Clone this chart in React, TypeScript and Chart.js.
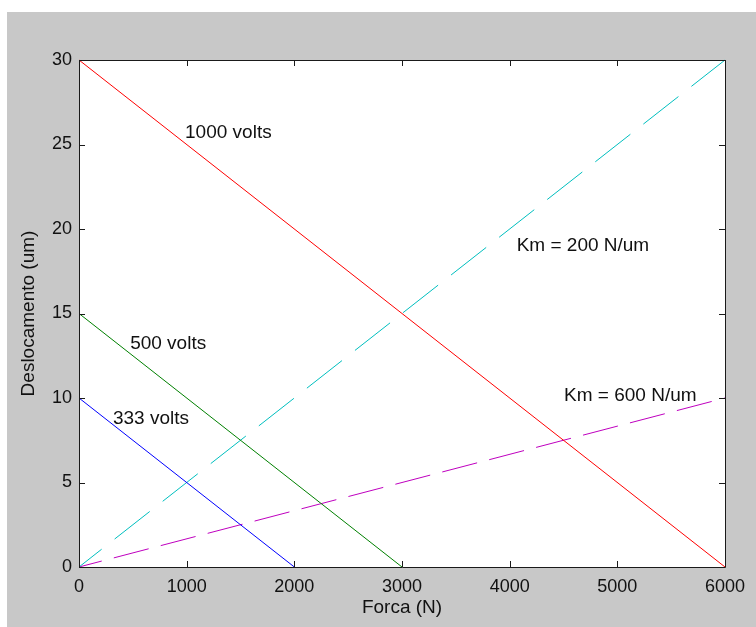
import React, { useEffect, useRef } from "react";
import { Chart, registerables } from "chart.js";

Chart.register(...registerables);

const forceTicks = [0, 1000, 2000, 3000, 4000, 5000, 6000];
const dispTicks = [0, 5, 10, 15, 20, 25, 30];

const force = [0, 6000];
const force500 = [0, 3000];
const force333 = [0, 2000];
const volts1000 = [30, 0];
const volts500 = [15, 0];
const volts333 = [10, 0];
const km200 = [0, 30];
const km600 = [0, 10];

const labelTexts = ["1000 volts", "500 volts", "333 volts", "Km = 200 N/um", "Km = 600 N/um"];
const labelX = [985, 475, 315, 4065, 4505];
const labelY = [25.7, 13.2, 8.8, 19.0, 10.15];

const xTitle = "Forca (N)";
const yTitle = "Deslocamento (um)";

const FONT = '"Liberation Sans", Arial, Helvetica, sans-serif';

const pts = (xs: number[], ys: number[]) => xs.map((x, i) => ({ x, y: ys[i] }));

const decorPlugin = {
  id: "decor",
  beforeDraw(chart: any) {
    const { ctx, width, height, chartArea } = chart;
    ctx.save();
    ctx.fillStyle = "#ffffff";
    ctx.fillRect(0, 0, width, height);
    ctx.fillStyle = "#c8c8c8";
    ctx.fillRect(7, 12, width - 7, height - 12);
    ctx.fillStyle = "#ffffff";
    ctx.fillRect(chartArea.left, chartArea.top, chartArea.right - chartArea.left, chartArea.bottom - chartArea.top);
    ctx.restore();
  },
  afterDraw(chart: any) {
    const { ctx, chartArea } = chart;
    const xs = chart.scales.x;
    const ys = chart.scales.y;
    const { left, right, top, bottom } = chartArea;
    ctx.save();
    ctx.strokeStyle = "#1a1a1a";
    ctx.lineWidth = 1;
    ctx.beginPath();
    ctx.rect(Math.round(left) + 0.5, Math.round(top) + 0.5, Math.round(right - left), Math.round(bottom - top));
    ctx.stroke();
    const tl = 6;
    ctx.beginPath();
    forceTicks.forEach((v) => {
      const px = Math.round(xs.getPixelForValue(v)) + 0.5;
      ctx.moveTo(px, bottom);
      ctx.lineTo(px, bottom - tl);
      ctx.moveTo(px, top);
      ctx.lineTo(px, top + tl);
    });
    dispTicks.forEach((v) => {
      const py = Math.round(ys.getPixelForValue(v)) + 0.5;
      ctx.moveTo(left, py);
      ctx.lineTo(left + tl, py);
      ctx.moveTo(right, py);
      ctx.lineTo(right - tl, py);
    });
    ctx.stroke();

    ctx.fillStyle = "#111111";
    ctx.font = `19px ${FONT}`;
    ctx.textAlign = "left";
    ctx.textBaseline = "middle";
    labelTexts.forEach((t, i) => {
      ctx.fillText(t, xs.getPixelForValue(labelX[i]), ys.getPixelForValue(labelY[i]));
    });

    ctx.textAlign = "center";
    ctx.textBaseline = "alphabetic";
    ctx.fillText(xTitle, (left + right) / 2, 613);
    ctx.save();
    ctx.translate(34, (top + bottom) / 2);
    ctx.rotate(-Math.PI / 2);
    ctx.fillText(yTitle, 0, 0);
    ctx.restore();
    ctx.restore();
  },
};

export default function App() {
  const ref = useRef<HTMLCanvasElement>(null);
  useEffect(() => {
    if (!ref.current) return;
    const chart = new Chart(ref.current, {
      type: "line",
      data: {
        datasets: [
          { data: pts(force, volts1000), borderColor: "#ff0000", borderWidth: 1 },
          { data: pts(force500, volts500), borderColor: "#008000", borderWidth: 1 },
          { data: pts(force333, volts333), borderColor: "#0000ff", borderWidth: 1 },
          { data: pts(force, km200), borderColor: "#00bfbf", borderWidth: 1, borderDash: [44.6, 16.5], borderDashOffset: 15.8 },
          { data: pts(force, km600), borderColor: "#bf00bf", borderWidth: 1, borderDash: [36, 12.5], borderDashOffset: 12.5 },
        ] as any,
      },
      options: {
        animation: false,
        responsive: false,
        devicePixelRatio: 1,
        layout: { padding: { top: 60, right: 31, left: 0, bottom: 0 } },
        elements: { point: { radius: 0 }, line: { tension: 0 } },
        datasets: { line: { clip: false } as any },
        plugins: { legend: { display: false }, tooltip: { enabled: false } },
        scales: {
          x: {
            type: "linear",
            min: 0,
            max: 6000,
            border: { display: false },
            grid: { display: false, drawTicks: false },
            afterBuildTicks: (s: any) => {
              s.ticks = forceTicks.map((v) => ({ value: v }));
            },
            afterFit: (s: any) => {
              s.height = 60;
            },
            ticks: {
              autoSkip: false,
              maxRotation: 0,
              padding: 9,
              color: "#111111",
              font: { family: FONT, size: 18 },
              callback: (v: any) => String(v),
            },
          },
          y: {
            type: "linear",
            min: 0,
            max: 30,
            border: { display: false },
            grid: { display: false, drawTicks: false },
            afterBuildTicks: (s: any) => {
              s.ticks = dispTicks.map((v) => ({ value: v }));
            },
            afterFit: (s: any) => {
              s.width = 79;
            },
            ticks: {
              autoSkip: false,
              padding: 7,
              color: "#111111",
              font: { family: FONT, size: 18 },
              callback: (v: any) => String(v),
            },
          },
        },
      },
      plugins: [decorPlugin],
    });
    return () => chart.destroy();
  }, []);
  return (
    <div style={{ position: "absolute", left: 0, top: 0, width: 756, height: 627 }}>
      <canvas ref={ref} width={756} height={627} style={{ display: "block" }} />
    </div>
  );
}
